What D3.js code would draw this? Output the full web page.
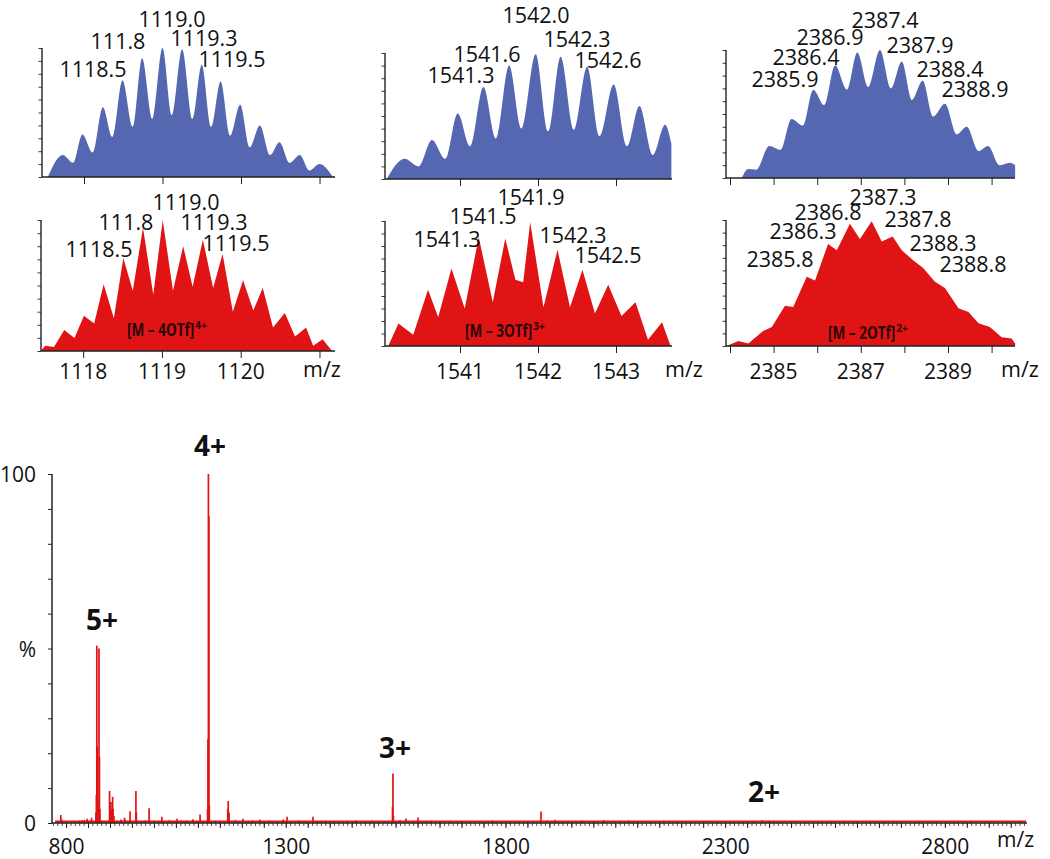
<!DOCTYPE html>
<html><head><meta charset="utf-8">
<script src="https://cdn.jsdelivr.net/npm/d3@7"></script>
<style>
body{margin:0;background:#fff;}
svg{display:block;}
text{font-family:"Open Sans",sans-serif;fill:#111;}
</style></head><body>
<svg id="c" width="1050" height="859"></svg>
<script>
// ================= DATA =================
// Main ESI-MS spectrum: sticks (m/z, % intensity)
const mainPeakMz  = [788, 790, 836, 848, 858, 868, 869, 870, 871, 872, 874, 875, 876, 877, 899, 902, 903, 906, 907, 909, 925, 933, 945.6, 959, 960, 989, 1018, 1052.6, 1089, 1105, 1122, 1123, 1124, 1125, 1126, 1168, 1169, 1171, 1202.7, 1241, 1294, 1303, 1362, 1543, 1544, 1545, 1573.6, 1601, 1880.8, 1912.6, 2024, 2384];
const mainPeakInt = [2.3, 1.0, 0.8, 1.2, 1.5, 3, 8, 50.8, 22, 6, 5, 50.0, 19, 4, 9.2, 6, 4, 7.5, 4, 2, 1.0, 1.5, 3.4, 9.2, 3, 4.2, 1.8, 1.2, 1.1, 2.4, 4, 24, 100, 88, 5, 4, 6.3, 3, 1.2, 1.0, 1.0, 1.8, 1.8, 4.6, 14.2, 2, 1.3, 1.6, 3.3, 0.9, 0.8, 0.8];
// baseline chemical noise (m/z, %)
const noiseMz  = [795, 812, 830, 842, 851, 880, 915, 935, 968, 980, 1000, 1010, 1035, 1045, 1062, 1075, 1097, 1130, 1140, 1150, 1185, 1195, 1215, 1225, 1250, 1262, 1280, 1312, 1330, 1345, 1375, 1390, 1410, 1425, 1440, 1460, 1480, 1495, 1510, 1525, 1560, 1590, 1615, 1630, 1650, 1675, 1700, 1720, 1745, 1770, 1790, 1810, 1830, 1850, 1865, 1895, 1930, 1950, 1975, 2000, 2045, 2060, 2080, 2100, 2130, 2160, 2190, 2220, 2250, 2280, 2310, 2340, 2365, 2400, 2410, 2425, 2450, 2480, 2510, 2540, 2570, 2600, 2630, 2660, 2700, 2740, 2780, 2820, 2860, 2900, 2940, 2975];
const noiseInt = [0.6, 0.5, 0.7, 0.9, 0.6, 0.8, 0.7, 0.9, 0.6, 0.8, 0.7, 0.5, 0.9, 0.6, 0.8, 0.7, 0.6, 0.5, 0.7, 0.6, 0.9, 0.5, 0.6, 0.8, 0.5, 0.7, 0.6, 0.5, 0.8, 0.6, 0.5, 0.7, 0.6, 0.5, 0.6, 0.8, 0.5, 0.7, 0.6, 0.5, 0.9, 0.6, 0.5, 0.7, 0.5, 0.6, 0.5, 0.6, 0.5, 0.7, 0.5, 0.6, 0.5, 0.6, 0.5, 0.8, 0.6, 0.5, 0.7, 0.5, 0.6, 0.5, 0.7, 0.5, 0.6, 0.5, 0.5, 0.6, 0.5, 0.6, 0.5, 0.5, 0.6, 0.7, 0.6, 0.5, 0.6, 0.5, 0.5, 0.6, 0.5, 0.5, 0.6, 0.5, 0.5, 0.6, 0.5, 0.5, 0.6, 0.5, 0.5, 0.5];
const mainXTicks = [800, 1300, 1800, 2300, 2800];
const mainYTicks = [0, 50, 100];
const mainYTickText = ["0", "%", "100"];
const chargeLabels = ["5+", "4+", "3+", "2+"];

// Inset 1: experimental [M-4OTf]4+ (blue)  relative intensity
const exp4Mz  = [1117.54, 1117.73, 1117.86, 1117.98, 1118.11, 1118.24, 1118.36, 1118.49, 1118.62, 1118.74, 1118.87, 1119.00, 1119.12, 1119.25, 1119.38, 1119.50, 1119.62, 1119.74, 1119.86, 1119.99, 1120.11, 1120.24, 1120.37, 1120.49, 1120.62, 1120.75, 1120.87, 1121.00, 1121.17];
const exp4Int = [0, 0.17, 0.11, 0.33, 0.19, 0.54, 0.31, 0.75, 0.39, 0.92, 0.45, 1.00, 0.48, 0.99, 0.45, 0.87, 0.39, 0.74, 0.32, 0.56, 0.23, 0.40, 0.17, 0.27, 0.11, 0.17, 0.05, 0.10, 0];
// Inset 2: experimental [M-3OTf]3+ (blue)
const exp3Mz  = [1540.06, 1540.29, 1540.47, 1540.64, 1540.81, 1540.97, 1541.13, 1541.30, 1541.46, 1541.63, 1541.79, 1541.97, 1542.13, 1542.29, 1542.46, 1542.63, 1542.79, 1542.97, 1543.14, 1543.30, 1543.47, 1543.63, 1543.71];
const exp3Int = [0, 0.16, 0.10, 0.31, 0.16, 0.52, 0.26, 0.73, 0.32, 0.90, 0.40, 0.99, 0.38, 0.97, 0.39, 0.89, 0.34, 0.75, 0.26, 0.58, 0.19, 0.43, 0.28];
// Inset 3: experimental [M-2OTf]2+ (blue)
const exp2Mz  = [2384.27, 2384.42, 2384.60, 2384.90, 2385.16, 2385.41, 2385.67, 2385.91, 2386.16, 2386.41, 2386.68, 2386.92, 2387.17, 2387.44, 2387.69, 2387.94, 2388.17, 2388.42, 2388.66, 2388.93, 2389.20, 2389.43, 2389.70, 2389.92, 2390.18, 2390.42, 2390.54];
const exp2Int = [0, 0.07, 0.065, 0.25, 0.22, 0.46, 0.41, 0.69, 0.57, 0.88, 0.69, 0.98, 0.71, 1.00, 0.70, 0.91, 0.61, 0.76, 0.48, 0.58, 0.34, 0.40, 0.21, 0.25, 0.10, 0.12, 0.10];
// Inset 4: simulated [M-4OTf]4+ (red)
const sim4Mz  = [1117.46, 1117.52, 1117.63, 1117.76, 1117.89, 1118.01, 1118.14, 1118.26, 1118.39, 1118.51, 1118.63, 1118.76, 1118.89, 1119.01, 1119.14, 1119.27, 1119.39, 1119.52, 1119.65, 1119.77, 1119.90, 1120.03, 1120.16, 1120.28, 1120.41, 1120.56, 1120.69, 1120.83, 1120.92, 1121.04, 1121.16];
const sim4Int = [0, 0.04, 0.03, 0.16, 0.10, 0.27, 0.21, 0.51, 0.25, 0.71, 0.46, 0.94, 0.43, 1.00, 0.46, 0.80, 0.49, 0.85, 0.48, 0.74, 0.30, 0.54, 0.31, 0.48, 0.18, 0.29, 0.11, 0.18, 0.04, 0.09, 0];
// Inset 5: simulated [M-3OTf]3+ (red)
const sim3Mz  = [1540.08, 1540.21, 1540.40, 1540.59, 1540.72, 1540.89, 1541.06, 1541.24, 1541.42, 1541.58, 1541.71, 1541.81, 1541.90, 1542.07, 1542.25, 1542.41, 1542.57, 1542.73, 1542.90, 1543.07, 1543.25, 1543.41, 1543.59, 1543.70];
const sim3Int = [0, 0.18, 0.09, 0.45, 0.23, 0.62, 0.30, 0.87, 0.35, 0.86, 0.53, 0.51, 0.99, 0.31, 0.77, 0.31, 0.61, 0.26, 0.49, 0.24, 0.35, 0.05, 0.19, 0];
// Inset 6: simulated [M-2OTf]2+ (red)
const sim2Mz  = [2383.92, 2384.19, 2384.42, 2384.76, 2384.96, 2385.26, 2385.45, 2385.76, 2385.95, 2386.25, 2386.45, 2386.75, 2386.98, 2387.25, 2387.48, 2387.73, 2387.94, 2388.20, 2388.43, 2388.70, 2388.93, 2389.24, 2389.47, 2389.70, 2389.96, 2390.23, 2390.46, 2390.54];
const sim2Int = [0, 0.04, 0.02, 0.12, 0.15, 0.32, 0.31, 0.55, 0.52, 0.81, 0.76, 0.97, 0.85, 0.99, 0.83, 0.87, 0.76, 0.68, 0.62, 0.51, 0.46, 0.30, 0.27, 0.18, 0.15, 0.07, 0.06, 0.02];

// Peak annotations
const exp4Labels = ["1118.5", "111.8", "1119.0", "1119.3", "1119.5"];
const exp3Labels = ["1541.3", "1541.6", "1542.0", "1542.3", "1542.6"];
const exp2Labels = ["2385.9", "2386.4", "2386.9", "2387.4", "2387.9", "2388.4", "2388.9"];
const sim4Labels = ["1118.5", "111.8", "1119.0", "1119.3", "1119.5"];
const sim3Labels = ["1541.3", "1541.5", "1541.9", "1542.3", "1542.5"];
const sim2Labels = ["2385.8", "2386.3", "2386.8", "2387.3", "2387.8", "2388.3", "2388.8"];
const col1Ticks = [1118, 1119, 1120, 1121];
const col2Ticks = [1541, 1542, 1543];
const col3Ticks = [2384, 2385, 2386, 2387, 2388, 2389, 2390];
const col1TickLabels = [1118, 1119, 1120];
const col2TickLabels = [1541, 1542, 1543];
const col3TickLabels = [2385, 2387, 2389];
const ionNames = ["[M \u2013 4OTf]", "[M \u2013 3OTf]", "[M \u2013 2OTf]"];
const ionCharges = ["4+", "3+", "2+"];

// ================= DRAW =================
const svg = d3.select("#c");
const BLUE = "#5567b1", RED = "#e01414", AX = "#222";

// ---------- main spectrum ----------
const mx = d3.scaleLinear().domain([768, 2987]).range([52, 1027]);
const my = d3.scaleLinear().domain([0, 100]).range([823, 474]);
const main = svg.append("g");

main.append("g").attr("transform", "translate(0,823)")
  .call(d3.axisBottom(mx).tickValues(d3.range(770, 2990, 10)).tickSize(3).tickFormat(""))
  .call(g => g.select(".domain").remove())
  .call(g => g.selectAll("line").attr("stroke", AX).attr("stroke-width", 0.8));
main.append("g").attr("transform", "translate(0,823)")
  .call(d3.axisBottom(mx).tickValues(d3.range(800, 2990, 50)).tickSize(5).tickFormat(""))
  .call(g => g.select(".domain").remove())
  .call(g => g.selectAll("line").attr("stroke", AX).attr("stroke-width", 1));
main.append("g").attr("transform", "translate(0,823)")
  .call(d3.axisBottom(mx).tickValues(mainXTicks).tickSize(0).tickPadding(16).tickFormat(d3.format("d")))
  .call(g => g.select(".domain").remove())
  .call(g => g.selectAll("text").attr("font-size", 21).attr("font-family", "Open Sans").attr("fill", "#111"));

main.append("g").attr("transform", "translate(52,0)")
  .call(d3.axisLeft(my).tickValues(d3.range(0, 101, 10)).tickSize(4).tickFormat(""))
  .call(g => g.select(".domain").remove())
  .call(g => g.selectAll("line").attr("stroke", AX));
main.append("g").attr("transform", "translate(52,0)")
  .call(d3.axisLeft(my).tickValues(mainYTicks).tickSize(0).tickPadding(16).tickFormat((d, i) => mainYTickText[i]))
  .call(g => g.select(".domain").remove())
  .call(g => g.selectAll("text").attr("font-size", 21).attr("font-family", "Open Sans").attr("fill", "#111").attr("dy", "0.38em"));
main.append("line").attr("x1", 52).attr("x2", 52).attr("y1", my(100)).attr("y2", my(0)).attr("stroke", AX).attr("stroke-width", 1.5);

main.selectAll("line.noise").data(noiseMz).join("line").attr("class", "noise")
  .attr("x1", d => mx(d)).attr("x2", d => mx(d)).attr("y1", my(0))
  .attr("y2", (d, i) => my(noiseInt[i])).attr("stroke", RED).attr("stroke-width", 1.2);
main.append("line").attr("x1", mx(775)).attr("x2", mx(2985)).attr("y1", my(0) - 1.5).attr("y2", my(0) - 1.5)
  .attr("stroke", RED).attr("stroke-width", 2);
main.selectAll("line.pk").data(mainPeakMz).join("line").attr("class", "pk")
  .attr("x1", d => mx(d)).attr("x2", d => mx(d)).attr("y1", my(0))
  .attr("y2", (d, i) => my(mainPeakInt[i])).attr("stroke", RED).attr("stroke-width", 1.7);
main.append("line").attr("x1", 52).attr("x2", 1027).attr("y1", 823).attr("y2", 823).attr("stroke", AX).attr("stroke-width", 1.5);

main.append("text").attr("x", 997).attr("y", 847).attr("font-size", 21).text("m/z");

const chargePos = [[102, 630], [210, 456], [395, 758], [764, 802]];
main.selectAll("text.chg").data(chargeLabels).join("text").attr("class", "chg")
  .attr("x", (d, i) => chargePos[i][0]).attr("y", (d, i) => chargePos[i][1])
  .attr("text-anchor", "middle").attr("font-size", 28).attr("font-weight", "bold").text(d => d);

// ---------- insets ----------
const panels = [
  {mz: exp4Mz, h: exp4Int, color: BLUE, smooth: true, x0: 42, x1: 335, yTop: 48, yBase: 177, dom: [1117.465, 1121.197], ticks: col1Ticks,
   labels: exp4Labels, pos: [[93, 77], [118, 49], [172, 27], [204, 46], [232, 67]]},
  {mz: exp3Mz, h: exp3Int, color: BLUE, smooth: true, x0: 385, x1: 672, yTop: 53, yBase: 179, dom: [1540.038, 1543.718], ticks: col2Ticks,
   labels: exp3Labels, pos: [[461, 83], [487, 62], [536, 23], [577, 47], [608, 68]]},
  {mz: exp2Mz, h: exp2Int, color: BLUE, smooth: true, x0: 726, x1: 1015, yTop: 50, yBase: 178, dom: [2383.908, 2390.537], ticks: col3Ticks,
   labels: exp2Labels, pos: [[785, 87], [806, 65], [830, 45], [885, 28], [920, 53], [950, 77], [975, 97]]},
  {mz: sim4Mz, h: sim4Int, color: RED, smooth: false, x0: 41, x1: 335, yTop: 220, yBase: 351, dom: [1117.465, 1121.197], ticks: col1Ticks,
   labels: sim4Labels, pos: [[99, 257], [126, 230], [186, 210], [214, 230], [236, 251]],
   tickLabels: col1TickLabels, mzX: 322, ion: 0, ionX: 127, ionY: 336},
  {mz: sim3Mz, h: sim3Int, color: RED, smooth: false, x0: 385, x1: 672, yTop: 221, yBase: 346, dom: [1540.038, 1543.718], ticks: col2Ticks,
   labels: sim3Labels, pos: [[447, 247], [483, 224], [531, 205], [573, 243], [608, 263]],
   tickLabels: col2TickLabels, mzX: 684, ion: 1, ionX: 465, ionY: 337},
  {mz: sim2Mz, h: sim2Int, color: RED, smooth: false, x0: 726, x1: 1015, yTop: 220, yBase: 346, dom: [2383.908, 2390.537], ticks: col3Ticks,
   labels: sim2Labels, pos: [[780, 267], [803, 239], [828, 220], [883, 205], [918, 227], [943, 251], [973, 272]],
   tickLabels: col3TickLabels, mzX: 1020, ion: 2, ionX: 828, ionY: 339}
];

panels.forEach(p => {
  const g = svg.append("g");
  const x = d3.scaleLinear().domain(p.dom).range([p.x0, p.x1]);
  const y = d3.scaleLinear().domain([0, 1]).range([p.yBase, p.yTop]);
  const pts = p.mz.map((m, i) => [m, p.h[i]]);
  const area = d3.area().x(d => x(d[0])).y0(p.yBase).y1(d => y(d[1]))
    .curve(p.smooth ? d3.curveMonotoneX : d3.curveLinear);
  g.append("path").datum(pts).attr("d", area).attr("fill", p.color);

  g.append("g").attr("transform", `translate(${p.x0},0)`)
    .call(d3.axisLeft(y).tickValues(d3.range(0, 1.01, 0.1)).tickSize(3.5).tickFormat(""))
    .call(a => a.select(".domain").remove())
    .call(a => a.selectAll("line").attr("stroke", AX).attr("stroke-width", 0.9));
  g.append("line").attr("x1", p.x0).attr("x2", p.x0).attr("y1", p.yTop).attr("y2", p.yBase).attr("stroke", AX).attr("stroke-width", 1.4);
  g.append("g").attr("transform", `translate(0,${p.yBase})`)
    .call(d3.axisBottom(x).tickValues(p.ticks).tickSize(7).tickFormat(""))
    .call(a => a.select(".domain").remove())
    .call(a => a.selectAll("line").attr("stroke", AX).attr("stroke-width", 1));
  g.append("line").attr("x1", p.x0).attr("x2", p.x1).attr("y1", p.yBase).attr("y2", p.yBase).attr("stroke", AX).attr("stroke-width", 1.4);

  if (p.tickLabels) {
    g.selectAll("text.tl").data(p.tickLabels).join("text").attr("class", "tl")
      .attr("x", d => x(d)).attr("y", 379).attr("text-anchor", "middle").attr("font-size", 21).text(d => d);
    g.append("text").attr("x", p.mzX).attr("y", 377).attr("text-anchor", "middle").attr("font-size", 21.5).text("m/z");
    // ion label, horizontally condensed
    const sx = 0.8;
    const ion = g.append("text").attr("transform", `translate(${p.ionX},${p.ionY}) scale(${sx},1)`)
      .attr("font-size", 17).attr("font-weight", "bold").style("fill", "#2a0606").text(ionNames[p.ion]);
    const w = ion.node().getComputedTextLength() * sx;
    g.append("text").attr("x", p.ionX + w + 1).attr("y", p.ionY - 7).attr("font-size", 10).attr("font-weight", "bold")
      .style("fill", "#2a0606").text(ionCharges[p.ion]);
  }

  g.selectAll("text.pl").data(p.labels).join("text").attr("class", "pl")
    .attr("x", (d, i) => p.pos[i][0]).attr("y", (d, i) => p.pos[i][1])
    .attr("text-anchor", "middle").attr("font-size", 21.5).text(d => d);
});
</script>
</body></html>
